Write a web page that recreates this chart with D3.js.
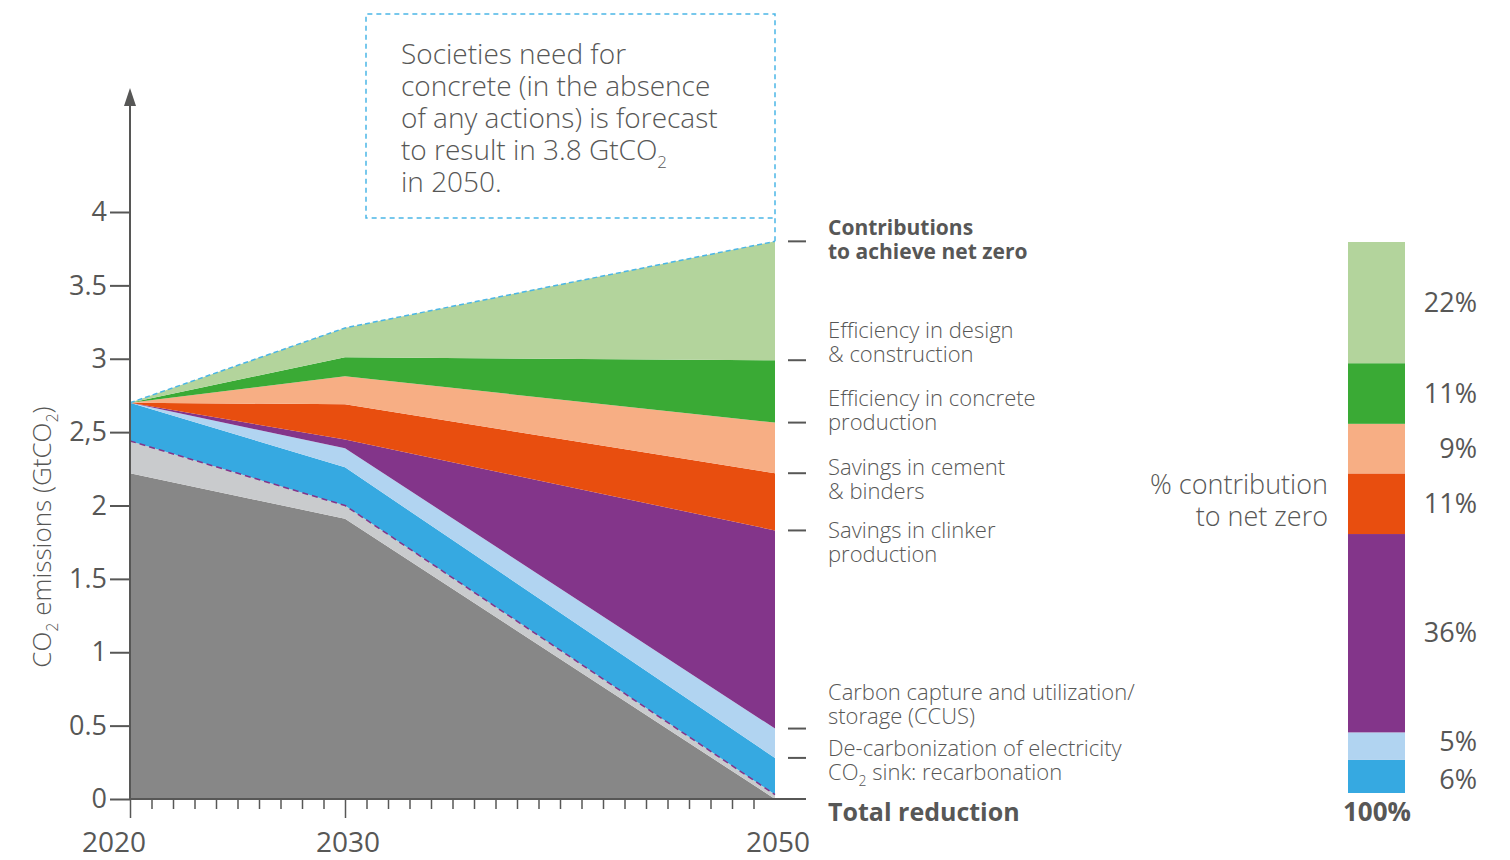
<!DOCTYPE html>
<html>
<head>
<meta charset="utf-8">
<script src="https://cdn.jsdelivr.net/npm/d3@7"></script>
<style>
  html, body { margin: 0; padding: 0; background: #fff; }
  svg { display: block; font-family: 'Open Sans', 'Lato', sans-serif; }
  .txt { fill: #575756; font-weight: 300; }
  .bold { fill: #575756; font-weight: 700; }
</style>
</head>
<body>
<svg width="1510" height="860"></svg>
<script>
// ---------------------------------------------------------
// Data (GtCO2 per layer, bottom to top)
const years = [2020, 2030, 2050];
const remaining = [2.22, 1.91, 0.0];
const recarbonation = [0.22, 0.09, 0.03];
const electricity = [0.26, 0.26, 0.25];
const ccus = [0.0, 0.13, 0.2];
const clinker = [0.0, 0.06, 1.35];
const cement = [0.0, 0.24, 0.39];
const concreteProd = [0.0, 0.19, 0.345];
const design = [0.0, 0.13, 0.425];
const demand = [0.0, 0.2, 0.81];

const layerKeys = ['remaining', 'recarbonation', 'electricity', 'ccus', 'clinker',
                   'cement', 'concreteProd', 'design', 'demand'];
const layerColors = ['#878787', '#c9cbcd', '#36a9e1', '#b1d4f1', '#83358a',
                     '#e84e0f', '#f7ae84', '#3aaa35', '#b3d49c'];

const yTicks = [0, 0.5, 1, 1.5, 2, 2.5, 3, 3.5, 4];
const yTickLabels = ['0', '0.5', '1', '1.5', '2', '2,5', '3', '3.5', '4'];
const xLabelYears = [2020, 2030, 2050];
const xMajorYears = [2020, 2030];

// % contribution bar (bottom to top)
const pctValues = [6, 5, 36, 11, 9, 11, 22];
const pctColors = ['#36a9e1', '#b1d4f1', '#83358a', '#e84e0f', '#f7ae84', '#3aaa35', '#b3d49c'];

const legendLabels = [
    ['Contributions', 'to achieve net zero'],
    ['Efficiency in design', '& construction'],
    ['Efficiency in concrete', 'production'],
    ['Savings in cement', '& binders'],
    ['Savings in clinker', 'production'],
    ['Carbon capture and utilization/', 'storage (CCUS)'],
    ['De-carbonization of electricity']
];

// ---------------------------------------------------------
const svg = d3.select('svg');
const textColor = '#575756';
const boxBlue = '#4bb6e6';

const xScale = d3.scaleLinear().domain([2020, 2050]).range([130, 775]);
const yScale = d3.scaleLinear().domain([0, 4]).range([799, 212]);

const table = years.map((yr, i) => ({
    year: yr,
    remaining: remaining[i],
    recarbonation: recarbonation[i],
    electricity: electricity[i],
    ccus: ccus[i],
    clinker: clinker[i],
    cement: cement[i],
    concreteProd: concreteProd[i],
    design: design[i],
    demand: demand[i]
}));

const series = d3.stack().keys(layerKeys)(table);

const area = d3.area()
    .x((d) => xScale(d.data.year))
    .y0((d) => yScale(d[0]))
    .y1((d) => yScale(d[1]));

svg.append('g')
    .selectAll('path')
    .data(series)
    .enter()
    .append('path')
    .attr('d', area)
    .attr('fill', (d, i) => layerColors[i]);

// dashed lines: top of recarbonation and total demand
const line = d3.line().x((d) => xScale(d.data.year)).y((d) => yScale(d[1]));
svg.append('path')
    .attr('d', line(series[1]))
    .attr('fill', 'none')
    .attr('stroke', '#83358a')
    .attr('stroke-width', 1.5)
    .attr('stroke-dasharray', '6,4');
svg.append('path')
    .attr('d', line(series[series.length - 1]))
    .attr('fill', 'none')
    .attr('stroke', boxBlue)
    .attr('stroke-width', 1.5)
    .attr('stroke-dasharray', '5,3');

// ---------------------------------------------------------
// Text box with dashed border
const boxRight = xScale(2050);
svg.append('path')
    .attr('d', `M${boxRight},${yScale(3.8)} V14 H366 V218 H${boxRight}`)
    .attr('fill', 'none')
    .attr('stroke', boxBlue)
    .attr('stroke-width', 1.5)
    .attr('stroke-dasharray', '5,4');

const boxLines = ['Societies need for', 'concrete (in the absence',
    'of any actions) is forecast', 'to result in 3.8 GtCO', 'in 2050.'];
const boxText = svg.append('text')
    .attr('class', 'txt')
    .style('font-size', '28px');
boxLines.forEach((l, i) => {
    boxText.append('tspan').attr('x', 401).attr('y', 64 + i * 32).text(l);
    if (i === 3) {
        boxText.append('tspan').attr('dy', 8).style('font-size', '17px').text('2');
    }
});

// ---------------------------------------------------------
// Axes
const yAxis = d3.axisLeft(yScale)
    .tickValues(yTicks)
    .tickSize(20)
    .tickPadding(3)
    .tickFormat((d, i) => yTickLabels[i]);

const yG = svg.append('g').attr('transform', 'translate(130,0)').call(yAxis);
yG.select('.domain').remove();
yG.selectAll('.tick line').attr('stroke', textColor).attr('stroke-width', 2);
yG.selectAll('.tick text')
    .attr('fill', textColor)
    .style('font-size', '27px')
    .style('font-family', 'Open Sans, sans-serif')
    .style('font-weight', 400);

const xAxis = d3.axisBottom(xScale)
    .tickValues(d3.range(2020, 2050))
    .tickSize(10)
    .tickFormat('');
const xG = svg.append('g').attr('transform', `translate(0,${yScale(0)})`).call(xAxis);
xG.select('.domain').remove();
xG.selectAll('.tick line')
    .attr('stroke', textColor)
    .attr('stroke-width', 1.5)
    .attr('y2', (d) => (xMajorYears.includes(d) ? 19 : 10));

// axis lines
svg.append('line')
    .attr('x1', 130).attr('x2', 806)
    .attr('y1', yScale(0)).attr('y2', yScale(0))
    .attr('stroke', textColor).attr('stroke-width', 2);
svg.append('line')
    .attr('x1', 130).attr('x2', 130)
    .attr('y1', yScale(0)).attr('y2', 100)
    .attr('stroke', textColor).attr('stroke-width', 2);
svg.append('path')
    .attr('d', 'M130,88 L136,106 L124,106 Z')
    .attr('fill', textColor);

svg.append('g')
    .selectAll('text')
    .data(xLabelYears)
    .enter()
    .append('text')
    .attr('class', 'txt')
    .style('font-weight', 400)
    .style('font-size', '28px')
    .attr('text-anchor', 'middle')
    .attr('x', (d, i) => xScale(d) + (i === 0 ? -16 : 3))
    .attr('y', 852)
    .text((d) => d);

// y axis label
const yLab = svg.append('text')
    .attr('class', 'txt')
    .style('font-size', '26px')
    .attr('text-anchor', 'middle')
    .attr('transform', 'translate(51,537) rotate(-90)');
yLab.append('tspan').text('CO');
yLab.append('tspan').attr('dy', 7).style('font-size', '16px').text('2');
yLab.append('tspan').attr('dy', -7).text(' emissions (GtCO');
yLab.append('tspan').attr('dy', 7).style('font-size', '16px').text('2');
yLab.append('tspan').attr('dy', -7).text(')');

// ---------------------------------------------------------
// Right-hand legend ticks at the 2050 layer tops
const lastTops = series.slice(2).map((s) => s[2][1]);
svg.append('g')
    .selectAll('line')
    .data(lastTops)
    .enter()
    .append('line')
    .attr('x1', 788).attr('x2', 806)
    .attr('y1', (d) => yScale(d)).attr('y2', (d) => yScale(d))
    .attr('stroke', textColor).attr('stroke-width', 2);

const labelTop = [235, 338, 406, 475, 538, 700, 756];
legendLabels.forEach((lines, i) => {
    lines.forEach((l, j) => {
        svg.append('text')
            .attr('class', i === 0 ? 'bold' : 'txt')
            .style('font-size', i === 0 ? '21px' : '22px')
            .attr('x', 828)
            .attr('y', labelTop[i] + j * 24)
            .text(l);
    });
});
const sink = svg.append('text').attr('class', 'txt').style('font-size', '22px')
    .attr('x', 828).attr('y', 780);
sink.append('tspan').text('CO');
sink.append('tspan').attr('dy', 6).style('font-size', '14px').text('2');
sink.append('tspan').attr('dy', -6).text(' sink: recarbonation');

svg.append('text')
    .attr('class', 'bold')
    .style('font-size', '25px')
    .attr('x', 828).attr('y', 821)
    .text('Total reduction');

// ---------------------------------------------------------
// % contribution bar
const pctScale = d3.scaleLinear().domain([0, 100]).range([793, 242]);
const pctStack = d3.cumsum(pctValues);
const barG = svg.append('g');
barG.selectAll('rect')
    .data(pctValues)
    .enter()
    .append('rect')
    .attr('x', 1348)
    .attr('width', 57)
    .attr('y', (d, i) => pctScale(pctStack[i]))
    .attr('height', (d, i) => pctScale(pctStack[i] - d) - pctScale(pctStack[i]))
    .attr('fill', (d, i) => pctColors[i]);

// label centres, pushed apart where segments are thin
const pctLabelY = pctValues.map((d, i) => pctScale(pctStack[i] - d / 2));
for (let i = 1; i < pctLabelY.length; i++) {
    const gap = pctLabelY[i - 1] - pctLabelY[i];
    if (gap < 38) {
        pctLabelY[i - 1] += (38 - gap) / 2;
        pctLabelY[i] -= (38 - gap) / 2;
    }
}

barG.selectAll('text')
    .data(pctValues)
    .enter()
    .append('text')
    .attr('class', 'txt')
    .style('font-weight', 400)
    .style('font-size', '27px')
    .attr('text-anchor', 'end')
    .attr('x', 1477)
    .attr('y', (d, i) => pctLabelY[i] + 9)
    .text((d) => d + '%');

svg.append('text')
    .attr('class', 'bold')
    .style('font-size', '26px')
    .attr('text-anchor', 'middle')
    .attr('x', 1377).attr('y', 821)
    .text(d3.sum(pctValues) + '%');

svg.append('text')
    .attr('class', 'txt')
    .style('font-size', '27px')
    .attr('text-anchor', 'end')
    .selectAll('tspan')
    .data(['% contribution', 'to net zero'])
    .enter()
    .append('tspan')
    .attr('x', 1328)
    .attr('y', (d, i) => 494 + i * 32)
    .text((d) => d);
</script>
</body>
</html>
